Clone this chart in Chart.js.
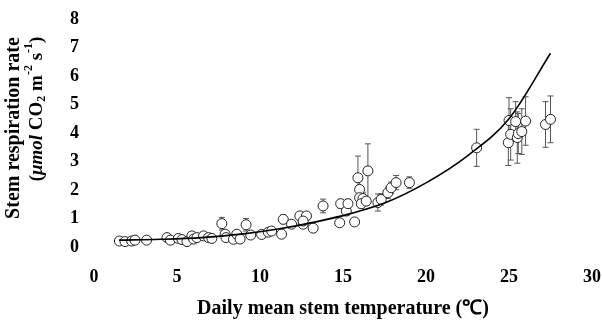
<!DOCTYPE html>
<html>
<head>
<meta charset="utf-8">
<script src="https://cdn.jsdelivr.net/npm/chart.js@4.4.0/dist/chart.umd.min.js"></script>
<style>
html,body{margin:0;padding:0;background:#fff;}
#wrap{width:602px;height:325px;}
</style>
</head>
<body>
<div id="wrap"><canvas id="c" width="602" height="325"></canvas></div>
<script>
// Observations: daily mean stem temperature (°C), stem respiration rate, error (±)
const temps = [1.53,1.87,2.27,2.47,3.17,4.4,4.6,5.08,5.3,5.6,5.9,6.0,6.2,6.6,6.9,7.1,
  7.7,7.9,7.95,8.4,8.6,8.8,9.16,9.44,10.1,10.5,10.7,
  11.3,11.4,11.9,12.4,12.6,12.8,12.6,13.2,13.8,
  14.8,14.86,15.2,15.3,15.7,15.9,16.0,16.0,16.2,16.1,16.4,16.5,17.1,17.3,17.7,17.9,18.2,19.0,
  23.05,24.96,25.0,25.1,25.4,25.5,25.56,25.77,26.0,27.2,27.5];
const rates = [0.21,0.19,0.21,0.24,0.24,0.33,0.24,0.30,0.26,0.19,0.39,0.28,0.33,0.39,0.33,0.30,
  0.82,0.45,0.33,0.27,0.45,0.28,0.78,0.42,0.44,0.52,0.56,
  0.45,0.97,0.80,1.09,0.80,1.09,0.91,0.66,1.44,
  0.85,1.52,1.26,1.52,0.88,2.43,2.02,1.73,1.70,1.52,1.61,2.67,1.56,1.67,1.90,2.08,2.26,2.26,
  3.48,3.66,4.44,3.95,4.40,3.84,3.98,4.05,4.42,4.30,4.48];
const errs = [0.03,0.03,0.03,0.03,0.03,0.04,0.04,0.04,0.04,0.04,0.05,0.05,0.05,0.05,0.05,0.05,
  0.22,0.08,0.06,0.06,0.08,0.06,0.22,0.08,0.08,0.08,0.08,
  0.08,0.15,0.10,0.10,0.10,0.10,0.10,0.08,0.24,
  0.12,0.15,0.15,0.15,0.10,0.76,0.30,0.20,0.20,0.15,0.15,0.95,0.30,0.20,0.20,0.20,0.25,0.20,
  0.65,0.80,0.80,0.90,0.70,0.90,0.70,0.80,0.85,0.80,0.82];
// Fitted curve
const curveT = [1.5,4,6.5,9,11,13.5,15.5,17.5,20,22.5,25,27.5];
const curveR = [0.24,0.27,0.33,0.46,0.62,0.90,1.18,1.54,2.25,3.2,4.5,6.8];
// Tick labels
const xTicks = [0,5,10,15,20,25,30];
const yTicks = [0,1,2,3,4,5,6,7,8];

const FONT = '"Liberation Serif","Times New Roman",serif';

const errorBars = {
  id:'errorBars',
  beforeDatasetsDraw(chart){
    const ctx = chart.ctx, xs = chart.scales.x, ys = chart.scales.y;
    ctx.save();
    ctx.strokeStyle = '#555';
    ctx.lineWidth = 1;
    temps.forEach((t,i)=>{
      const x = xs.getPixelForValue(t);
      const y1 = ys.getPixelForValue(rates[i]+errs[i]);
      const y2 = ys.getPixelForValue(rates[i]-errs[i]);
      ctx.beginPath();
      ctx.moveTo(x,y1); ctx.lineTo(x,y2);
      ctx.moveTo(x-3,y1); ctx.lineTo(x+3,y1);
      ctx.moveTo(x-3,y2); ctx.lineTo(x+3,y2);
      ctx.stroke();
    });
    ctx.restore();
  }
};

function drawRuns(ctx, runs, cx, cy){
  let total = 0;
  runs.forEach(r=>{ ctx.font = r.font; r.w = ctx.measureText(r.t).width; total += r.w; });
  let x = cx - total/2;
  runs.forEach(r=>{ ctx.font = r.font; ctx.fillText(r.t, x, cy + (r.dy||0)); x += r.w; });
}

const yTitle = {
  id:'yTitle',
  afterDraw(chart){
    const ctx = chart.ctx;
    ctx.save();
    ctx.fillStyle = '#000';
    ctx.textBaseline = 'middle';
    ctx.textAlign = 'left';
    ctx.save();
    ctx.translate(14,128);
    ctx.rotate(-Math.PI/2);
    drawRuns(ctx,[{t:'Stem respiration rate', font:'bold 20px '+FONT}],0,0);
    ctx.restore();
    ctx.save();
    ctx.translate(37,109);
    ctx.rotate(-Math.PI/2);
    const b = 'bold 19px '+FONT, s = 'bold 12px '+FONT;
    drawRuns(ctx,[
      {t:'(', font:b},
      {t:'\u03bcmol', font:'italic bold 19px '+FONT},
      {t:' CO', font:b},
      {t:'2', font:s, dy:5},
      {t:' m', font:b},
      {t:'-2', font:s, dy:-8},
      {t:' s', font:b},
      {t:'-1', font:s, dy:-8},
      {t:')', font:b}
    ],0,0);
    ctx.restore();
    ctx.restore();
  }
};

new Chart(document.getElementById('c'),{
  data:{
    datasets:[
      {
        type:'line',
        data: curveT.map((t,i)=>({x:t,y:curveR[i]})),
        borderColor:'#000',
        borderWidth:1.6,
        pointRadius:0,
        fill:false,
        cubicInterpolationMode:'monotone',
        order:0
      },
      {
        type:'scatter',
        data: temps.map((t,i)=>({x:t,y:rates[i]})),
        pointRadius:5,
        pointBackgroundColor:'#fff',
        pointBorderColor:'#222',
        pointBorderWidth:1,
        order:1
      }
    ]
  },
  options:{
    responsive:false,
    animation:false,
    devicePixelRatio:1,
    layout:{padding:{top:19,right:10,left:0,bottom:0}},
    plugins:{legend:{display:false},tooltip:{enabled:false}},
    scales:{
      x:{
        type:'linear', min:0, max:30,
        afterBuildTicks(s){ s.ticks = xTicks.map(v=>({value:v})); },
        afterFit(s){ s.height = 78; s.paddingLeft = 0; s.paddingRight = 0; },
        grid:{display:false, drawTicks:false},
        border:{display:false},
        ticks:{padding:20, color:'#000', font:{family:FONT, weight:'bold', size:18}},
        title:{display:true, text:'Daily mean stem temperature (\u2103)', color:'#000',
          font:{family:FONT, weight:'bold', size:20}, padding:{top:0,bottom:4}}
      },
      y:{
        type:'linear', min:0, max:8,
        afterBuildTicks(s){ s.ticks = yTicks.map(v=>({value:v})); },
        afterFit(s){ s.width = 94; s.paddingTop = 0; s.paddingBottom = 0; },
        grid:{display:false, drawTicks:false},
        border:{display:false},
        ticks:{padding:15, color:'#000', font:{family:FONT, weight:'bold', size:18}}
      }
    }
  },
  plugins:[errorBars, yTitle]
});
</script>
</body>
</html>
